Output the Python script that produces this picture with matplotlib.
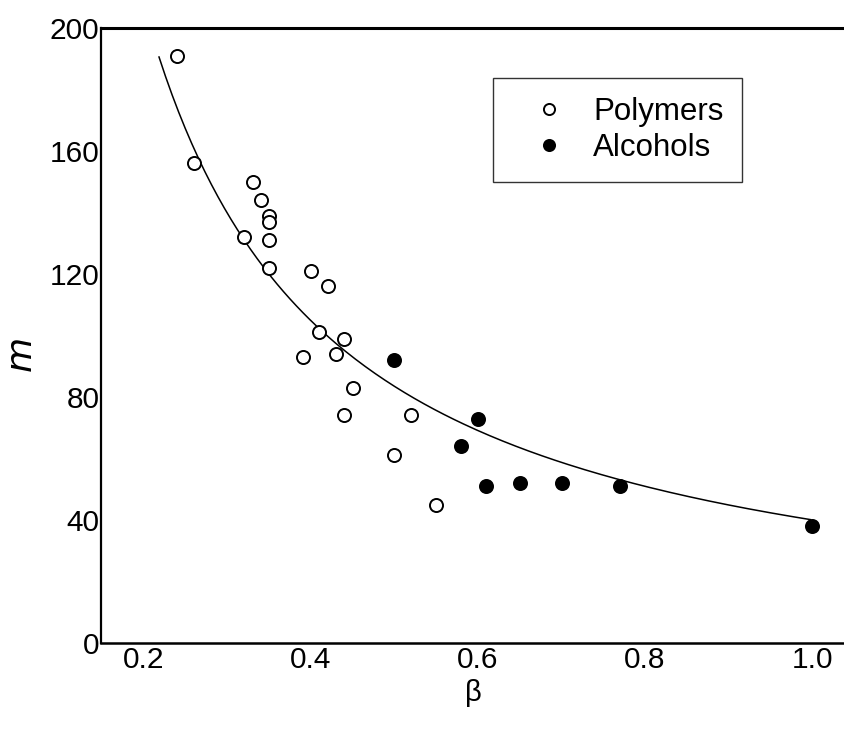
import numpy as np
import matplotlib
matplotlib.use("Agg")
import matplotlib.pyplot as plt

plt.rcParams['font.family'] = ['Liberation Sans', 'DejaVu Sans']

# Polymers (open circles)
poly_beta = [0.24, 0.26, 0.33, 0.34, 0.35, 0.35, 0.32, 0.35, 0.35, 0.40,
             0.42, 0.41, 0.44, 0.39, 0.43, 0.45, 0.44, 0.52, 0.50, 0.55]
poly_m = [191, 156, 150, 144, 139, 137, 132, 131, 122, 121,
          116, 101, 99, 93, 94, 83, 74, 74, 61, 45]

# Alcohols (filled circles)
alc_beta = [0.50, 0.60, 0.58, 0.61, 0.65, 0.70, 0.77, 1.00]
alc_m = [92, 73, 64, 51, 52, 52, 51, 38]

# points
curve_beta = [0.218, 0.259, 0.319, 0.409, 0.531, 0.650, 0.770, 0.998]
curve_m = [191, 160, 133, 102, 78, 63.5, 53.5, 40]

x_ticks = [0.2, 0.4, 0.6, 0.8, 1.0]
x_ticklabels = ['0.2', '0.4', '0.6', '0.8', '1.0']
y_ticks = [0, 40, 80, 120, 160, 200]

# smooth curve through the read points (quadratic in log-log)
coef = np.polyfit(np.log(curve_beta), np.log(curve_m), 2)
bb = np.linspace(curve_beta[0], curve_beta[-1], 200)
mm = np.exp(np.polyval(coef, np.log(bb)))

fig = plt.figure(figsize=(8.45, 7.33), dpi=100)
ax = fig.add_axes([0.1195, 0.1228, 0.8805, 0.839])

ax.plot(bb, mm, color='black', lw=1.1)
ax.plot(poly_beta, poly_m, 'o', ms=9.4, mfc='white', mec='black', mew=1.4,
        label='Polymers', clip_on=False)
ax.plot(alc_beta, alc_m, 'o', ms=9.4, mfc='black', mec='black', mew=1.4,
        label='Alcohols', clip_on=False)

ax.set_xlim(0.1485, 1.0395)
ax.set_ylim(0, 200)
ax.set_xticks(x_ticks)
ax.set_xticklabels(x_ticklabels)
ax.set_yticks(y_ticks)
ax.tick_params(length=0, labelsize=21.5, pad=2)
ax.tick_params(axis='y', pad=1)

ax.spines['right'].set_visible(False)
ax.spines['top'].set_linewidth(2.2)
ax.spines['left'].set_linewidth(1.6)
ax.spines['bottom'].set_linewidth(1.8)

ax.set_xlabel('β', fontsize=21, labelpad=4)
ax.set_ylabel('$m$', fontsize=26)
ax.yaxis.set_label_coords(-0.082, 0.468)

leg = ax.legend(loc='upper left', bbox_to_anchor=(0.527, 0.919), fontsize=22.5,
                frameon=True, fancybox=False, edgecolor='black', markerscale=0.85,
                handlelength=2.4, handletextpad=0.2, borderpad=0.6,
                labelspacing=0.2, borderaxespad=0)
leg.get_frame().set_linewidth(1.0)

fig.savefig('out.png', dpi=100)
